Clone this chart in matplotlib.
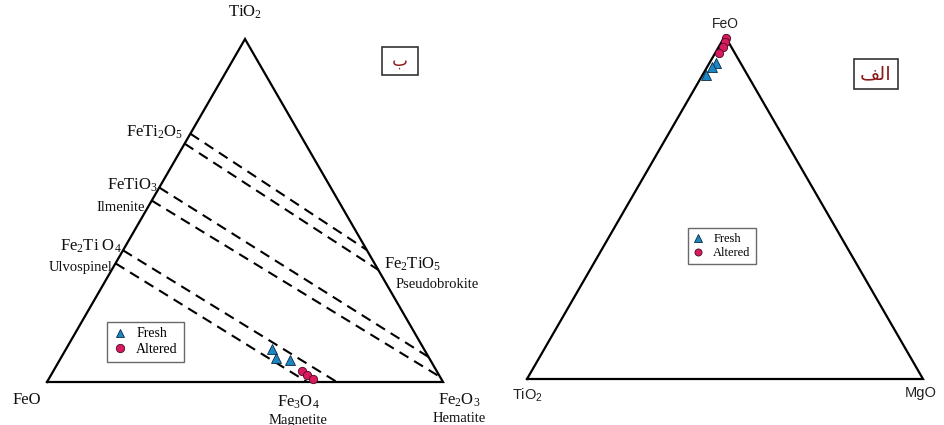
import numpy as np
import matplotlib
matplotlib.use("Agg")
import matplotlib.pyplot as plt
from matplotlib.lines import Line2D

plt.rcParams["mathtext.default"] = "regular"

H = np.sqrt(3) / 2

# ── Left diagram (FeO - Fe2O3 - TiO2), fractions: top = TiO2, right = Fe2O3 ──
tie_start_top = [0.724, 0.695, 0.567, 0.529, 0.384, 0.346]
tie_end_top = [0.385, 0.327, 0.073, 0.015, 0.0, 0.0]
tie_end_right = [0.615, 0.673, 0.927, 0.985, 0.732, 0.657]

fresh_l_top = [0.096, 0.070, 0.064]
fresh_l_right = [0.520, 0.543, 0.582]
altered_l_top = [0.032, 0.020, 0.009]
altered_l_right = [0.628, 0.647, 0.667]

# ── Right diagram (TiO2 - MgO - FeO), fractions: top = FeO, right = MgO ──
fresh_r_top = [0.921, 0.910, 0.886]
fresh_r_right = [0.017, 0.012, 0.009]
altered_r_top = [0.994, 0.982, 0.967, 0.952]
altered_r_right = [0.006, 0.010, 0.012, 0.010]

FRESH_C = "#1a86c4"
ALTERED_C = "#d81b60"


def tern(right, top):
    right = np.asarray(right, float)
    top = np.asarray(top, float)
    return right + top / 2, top * H


def draw_frame(ax):
    x, y = tern([0, 1, 0, 0], [0, 0, 1, 0])
    ax.plot(x, y, color="black", lw=1.6, solid_joinstyle="miter", zorder=2)


def draw_points(ax, fr, ft, ar, at):
    x, y = tern(fr, ft)
    ax.plot(x, y, ls="none", marker="^", ms=6.5, mfc=FRESH_C, mec="#0a2a40",
            mew=0.6, zorder=4)
    x, y = tern(ar, at)
    ax.plot(x, y, ls="none", marker="o", ms=6, mfc=ALTERED_C, mec="#4a0a20",
            mew=0.6, zorder=4)


fig = plt.figure(figsize=(9.44, 4.25), dpi=100)
fig.patch.set_facecolor("white")

# axes in pixel-matched data units (1 unit = 396 px)
axL = fig.add_axes([0, 0, 0.5, 1])
axL.set_xlim(-47 / 396, (472 - 47) / 396)
axL.set_ylim((382 - 425) / 396, 382 / 396)
axR = fig.add_axes([0.5, 0, 0.5, 1])
axR.set_xlim((472 - 527) / 396, (944 - 527) / 396)
axR.set_ylim((379 - 425) / 396, 379 / 396)
for ax in (axL, axR):
    ax.axis("off")

# ── left panel ──
draw_frame(axL)
for s, et, er in zip(tie_start_top, tie_end_top, tie_end_right):
    x, y = tern([0, er], [s, et])
    axL.plot(x, y, color="black", lw=1.5, dashes=(5, 3.2), zorder=1)
draw_points(axL, fresh_l_right, fresh_l_top, altered_l_right, altered_l_top)

serif = dict(family="Liberation Serif", color="#111111")
big, small = 12, 10.5
axL.text(0.5, H + 0.045, "TiO$_2$", ha="center", va="bottom", fontsize=big, **serif)
axL.text(-0.015, -0.025, "FeO", ha="right", va="top", fontsize=big, **serif)
axL.text(1.04, -0.025, "Fe$_2$O$_3$", ha="center", va="top", fontsize=big, **serif)
axL.text(1.04, -0.075, "Hematite", ha="center", va="top", fontsize=small, **serif)
axL.text(0.635, -0.03, "Fe$_3$O$_4$", ha="center", va="top", fontsize=big, **serif)
axL.text(0.635, -0.08, "Magnetite", ha="center", va="top", fontsize=small, **serif)
axL.text(0.345, 0.63, "FeTi$_2$O$_5$", ha="right", va="center", fontsize=big, **serif)
axL.text(0.28, 0.497, "FeTiO$_3$", ha="right", va="center", fontsize=big, **serif)
axL.text(0.248, 0.44, "Ilmenite", ha="right", va="center", fontsize=small, **serif)
axL.text(0.19, 0.342, "Fe$_2$Ti O$_4$", ha="right", va="center", fontsize=big, **serif)
axL.text(0.165, 0.29, "Ulvospinel", ha="right", va="center", fontsize=small, **serif)
axL.text(0.85, 0.297, "Fe$_2$TiO$_5$", ha="left", va="center", fontsize=big, **serif)
axL.text(0.88, 0.245, "Pseudobrokite", ha="left", va="center", fontsize=small, **serif)
axL.text(0.891, 0.811, " \u0628 ", ha="center", va="center", fontsize=12,
         family="DejaVu Sans", color="#8b1a1a",
         bbox=dict(boxstyle="square,pad=0.3", fc="white", ec="#333333", lw=1.2))

handles = [
    Line2D([], [], ls="none", marker="^", ms=6, mfc=FRESH_C, mec="#0a2a40", mew=0.6),
    Line2D([], [], ls="none", marker="o", ms=6, mfc=ALTERED_C, mec="#4a0a20", mew=0.6),
]
legL = axL.legend(handles, ["Fresh", "Altered"], loc="upper left",
                  bbox_to_anchor=(0.152, 0.152), bbox_transform=axL.transData,
                  prop={"family": "Liberation Serif", "size": 10},
                  frameon=True, fancybox=False, edgecolor="#444444",
                  handlelength=1.0, handletextpad=0.7, borderpad=0.4,
                  labelspacing=0.2, borderaxespad=0)
legL.get_frame().set_linewidth(1.0)

# ── right panel ──
draw_frame(axR)
draw_points(axR, fresh_r_right, fresh_r_top, altered_r_right, altered_r_top)

sans = dict(family="Liberation Sans", color="#222222")
axR.text(0.5, H + 0.012, "FeO", ha="center", va="bottom", fontsize=10, **sans)
axR.text(0.0, -0.018, "TiO$_2$", ha="center", va="top", fontsize=10.5, **sans)
axR.text(0.995, -0.018, "MgO", ha="center", va="top", fontsize=10.5, **sans)
axR.text(0.881, 0.770, "\ufed2\ufedf\u0627", ha="center", va="center", fontsize=14,
         family="DejaVu Sans", color="#8b1a1a",
         bbox=dict(boxstyle="square,pad=0.3", fc="white", ec="#333333", lw=1.2))

legR = axR.legend(handles, ["Fresh", "Altered"], loc="upper left",
                  bbox_to_anchor=(0.407, 0.381), bbox_transform=axR.transData,
                  prop={"family": "Liberation Serif", "size": 9},
                  frameon=True, fancybox=False, edgecolor="#444444",
                  handlelength=0.8, handletextpad=0.8, borderpad=0.4,
                  labelspacing=0.15, borderaxespad=0, markerscale=0.85)
legR.get_frame().set_linewidth(1.0)

fig.savefig("out.png", dpi=100, facecolor="white")
